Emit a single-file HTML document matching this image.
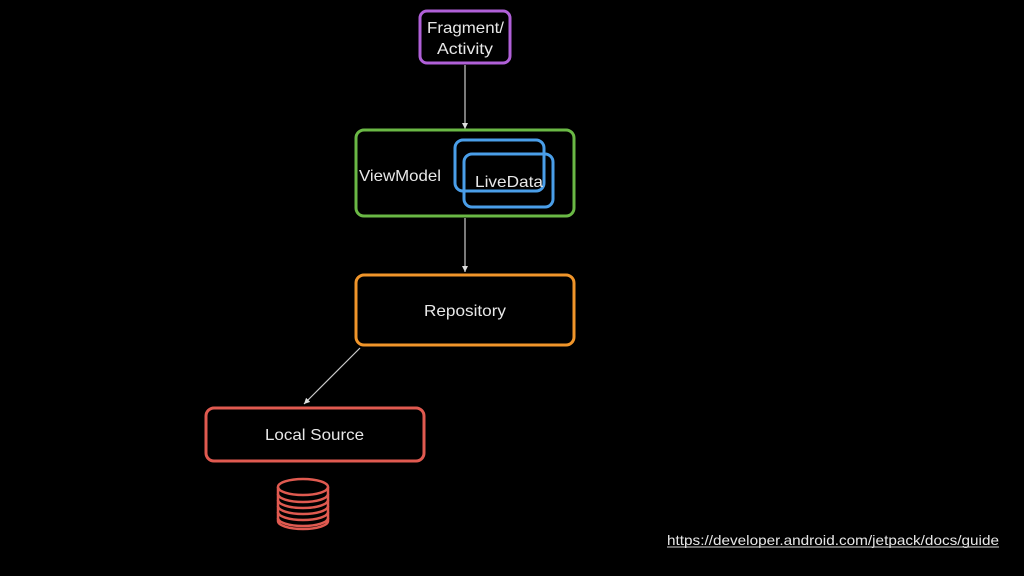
<!DOCTYPE html>
<html><head><meta charset="utf-8"><style>
html,body{margin:0;padding:0;background:#000;width:1024px;height:576px;overflow:hidden}
svg{display:block}
text{font-family:"Liberation Sans",sans-serif;fill:#e8e8e8}
</style></head><body>
<svg width="1024" height="576" viewBox="0 0 1024 576" xmlns="http://www.w3.org/2000/svg">
<defs><marker id="a" markerWidth="8" markerHeight="8" refX="6" refY="3" orient="auto" markerUnits="userSpaceOnUse"><path d="M0,0 L6,3 L0,6 Z" fill="#ddd"/></marker></defs>
<rect x="420" y="11" width="90" height="52" rx="7" fill="none" stroke="#b060d8" stroke-width="3"/>
<text x="427" y="33" font-size="16" textLength="77" lengthAdjust="spacingAndGlyphs">Fragment/</text>
<text x="437" y="54" font-size="16" textLength="56" lengthAdjust="spacingAndGlyphs">Activity</text>
<line x1="465" y1="65" x2="465" y2="129" stroke="#ccc" stroke-width="1.2" marker-end="url(#a)"/>
<rect x="356" y="130" width="218" height="86" rx="8" fill="none" stroke="#6ab845" stroke-width="3"/>
<text x="359" y="181" font-size="16" textLength="82" lengthAdjust="spacingAndGlyphs">ViewModel</text>
<rect x="455" y="140" width="89" height="51" rx="8" fill="none" stroke="#4a9ee8" stroke-width="3"/>
<rect x="464" y="154" width="89" height="53" rx="8" fill="none" stroke="#4a9ee8" stroke-width="3"/>
<text x="475" y="187" font-size="16" textLength="68" lengthAdjust="spacingAndGlyphs">LiveData</text>
<line x1="465" y1="218" x2="465" y2="272" stroke="#ccc" stroke-width="1.2" marker-end="url(#a)"/>
<rect x="356" y="275" width="218" height="70" rx="8" fill="none" stroke="#f0952a" stroke-width="3"/>
<text x="424" y="316" font-size="16" textLength="82" lengthAdjust="spacingAndGlyphs">Repository</text>
<line x1="360" y1="348" x2="304" y2="404" stroke="#ccc" stroke-width="1.2" marker-end="url(#a)"/>
<rect x="206" y="408" width="218" height="53" rx="8" fill="none" stroke="#e05a50" stroke-width="3"/>
<text x="265" y="440" font-size="16" textLength="99" lengthAdjust="spacingAndGlyphs">Local Source</text>
<g fill="none" stroke="#e05a50" stroke-width="2.5">
<ellipse cx="303" cy="487" rx="25" ry="8"/>
<path d="M278,487 V521 A25,8 0 0 0 328,521 V487"/>
<path d="M278,494 A25,8 0 0 0 328,494"/>
<path d="M278,500 A25,8 0 0 0 328,500"/>
<path d="M278,506 A25,8 0 0 0 328,506"/>
<path d="M278,512 A25,8 0 0 0 328,512"/>
<path d="M278,518 A25,8 0 0 0 328,518"/>
</g>
<text x="667" y="545" font-size="14" textLength="332" lengthAdjust="spacingAndGlyphs">https://developer.android.com/jetpack/docs/guide</text>
<line x1="667" y1="547" x2="999" y2="547" stroke="#ccc" stroke-width="1"/>
</svg>
</body></html>
